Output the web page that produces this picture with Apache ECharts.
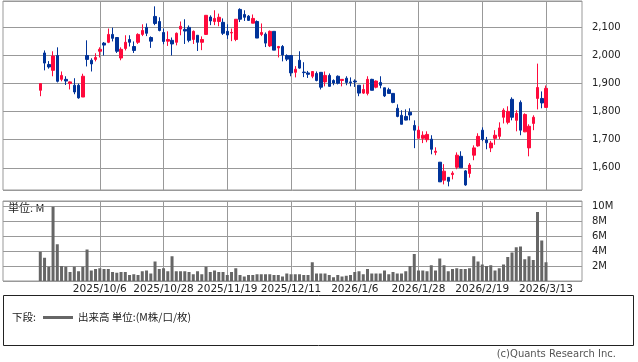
<!DOCTYPE html>
<html>
<head>
<meta charset="utf-8">
<script src="https://cdn.jsdelivr.net/npm/echarts@6/dist/echarts.min.js"></script>
<style>
html,body{margin:0;padding:0;background:#fff;}
#chart{width:638px;height:362px;}
</style>
</head>
<body>
<div id="chart"></div>
<script>
// ---- data ----
const padBefore = ['2025/9/2','2025/9/3','2025/9/4','2025/9/5','2025/9/8','2025/9/9','2025/9/10','2025/9/11'];
const padAfter = ['2026/3/16','2026/3/17','2026/3/18','2026/3/19','2026/3/23','2026/3/24','2026/3/25','2026/3/26'];
const priceDates = [
'2025/9/12','2025/9/16','2025/9/17','2025/9/18','2025/9/19','2025/9/22','2025/9/24','2025/9/25','2025/9/26','2025/9/29','2025/9/30',
'2025/10/1','2025/10/2','2025/10/3','2025/10/6','2025/10/7','2025/10/8','2025/10/9','2025/10/10','2025/10/14','2025/10/15','2025/10/16','2025/10/17','2025/10/20','2025/10/21','2025/10/22','2025/10/23','2025/10/24','2025/10/27','2025/10/28','2025/10/29','2025/10/30','2025/10/31',
'2025/11/4','2025/11/5','2025/11/6','2025/11/7','2025/11/10','2025/11/11','2025/11/12','2025/11/13','2025/11/14','2025/11/17','2025/11/18','2025/11/19','2025/11/20','2025/11/21','2025/11/25','2025/11/26','2025/11/27','2025/11/28',
'2025/12/1','2025/12/2','2025/12/3','2025/12/4','2025/12/5','2025/12/8','2025/12/9','2025/12/10','2025/12/11','2025/12/12','2025/12/15','2025/12/16','2025/12/17','2025/12/18','2025/12/19','2025/12/22','2025/12/23','2025/12/24','2025/12/25','2025/12/26','2025/12/29','2025/12/30',
'2026/1/5','2026/1/6','2026/1/7','2026/1/8','2026/1/9','2026/1/13','2026/1/14','2026/1/15','2026/1/16','2026/1/19','2026/1/20','2026/1/21','2026/1/22','2026/1/23','2026/1/26','2026/1/27','2026/1/28','2026/1/29','2026/1/30',
'2026/2/2','2026/2/3','2026/2/4','2026/2/5','2026/2/6','2026/2/9','2026/2/10','2026/2/12','2026/2/13','2026/2/16','2026/2/17','2026/2/18','2026/2/19','2026/2/20','2026/2/24','2026/2/25','2026/2/26','2026/2/27',
'2026/3/2','2026/3/3','2026/3/4','2026/3/5','2026/3/6','2026/3/9','2026/3/10','2026/3/11','2026/3/12','2026/3/13'
];
const tickLabels = ['2025/10/6','2025/10/28','2025/11/19','2025/12/11','2026/1/6','2026/1/28','2026/2/19','2026/3/13'];

const opens = [1876,2009,1968,1947,2000,1915,1915,1900,1894,1894,1852,2000,1983,1986,2015,2044,2047,2075,2064,1991,
2025,2057,2032,2047,2075,2100,2064,2139,2121,2082,2051,2054,2047,2094,2093,2100,2057,2072,2047,2075,
2137,2121,2121,2118,2086,2080,2057,2164,2146,2140,2115,2121,2075,2076,2034,2086,2027,2032,2000,2000,
1940,1983,1941,1938,1926,1936,1940,1906,1929,1911,1926,1911,1919,1906,1909,1894,1866,1865,1915,1887,
1904,1885,1878,1865,1812,1787,1783,1798,1751,1705,1705,1700,1702,1655,1620,1556,1566,1576,1602,1641,
1589,1580,1645,1678,1734,1699,1671,1705,1712,1780,1762,1844,1769,1833,1728,1671,1758,1847,1847,1815];
const closes = [1900,1973,1959,1998,1908,1929,1909,1906,1870,1849,1926,1986,1970,1993,2022,2037,2075,2061,2015,2022,
2047,2047,2018,2075,2089,2079,2051,2114,2089,2050,2057,2041,2079,2104,2087,2054,2086,2047,2057,2143,
2123,2132,2136,2079,2073,2082,2129,2129,2136,2125,2132,2062,2082,2044,2086,2019,2032,2002,1987,1938,
1951,1955,1939,1933,1943,1911,1887,1929,1890,1902,1901,1915,1904,1903,1906,1866,1879,1915,1876,1909,
1894,1856,1865,1833,1783,1755,1770,1788,1734,1734,1716,1719,1666,1659,1550,1588,1552,1581,1645,1600,
1539,1610,1671,1712,1701,1689,1688,1716,1742,1805,1801,1780,1794,1734,1790,1748,1780,1886,1831,1883];
const lows = [1855,1947,1953,1926,1904,1908,1895,1879,1862,1846,1852,1961,1943,1979,1993,2000,2044,2050,2009,1983,
2018,2032,2009,2041,2069,2069,2027,2108,2086,2040,2034,2000,2036,2072,2041,2047,2041,2016,2019,2073,
2108,2108,2104,2073,2059,2051,2051,2119,2123,2123,2115,2062,2069,2030,2030,2019,1993,1979,1980,1926,
1922,1953,1923,1920,1919,1908,1879,1890,1890,1894,1897,1890,1894,1890,1888,1855,1863,1858,1876,1883,
1883,1852,1865,1830,1780,1755,1769,1769,1670,1702,1688,1691,1648,1645,1550,1541,1534,1559,1595,1600,
1536,1565,1627,1675,1695,1666,1656,1682,1702,1758,1755,1769,1730,1716,1727,1641,1734,1808,1812,1815];
const highs = [1900,2018,1980,2015,2029,1943,1926,1908,1919,1900,1935,2054,1990,2008,2029,2048,2096,2099,2064,2029,
2072,2072,2050,2079,2111,2114,2068,2175,2136,2096,2086,2064,2082,2121,2129,2107,2089,2072,2068,2143,
2143,2161,2149,2132,2111,2096,2129,2168,2161,2144,2146,2125,2114,2082,2089,2086,2034,2037,2004,2000,
1962,2015,1976,1945,1943,1943,1940,1943,1936,1915,1929,1915,1926,1922,1915,1894,1897,1926,1917,1911,
1926,1885,1885,1865,1826,1805,1808,1812,1769,1748,1730,1730,1716,1673,1620,1613,1566,1588,1655,1659,
1592,1617,1680,1723,1744,1710,1696,1734,1762,1812,1819,1851,1805,1840,1794,1755,1787,1971,1872,1893];
const volumes = [3.9,3.1,1.9,9.9,4.9,2.0,1.9,1.2,1.9,1.3,1.9,4.2,1.4,1.6,1.7,1.6,1.6,1.2,1.1,1.2,
1.2,0.8,0.9,0.8,1.3,1.4,1.0,2.6,1.6,1.7,1.3,3.3,1.3,1.3,1.3,1.2,0.9,1.3,0.9,1.9,
1.2,1.4,1.2,1.2,0.8,1.2,1.7,0.8,0.6,0.8,0.8,0.9,0.9,0.9,0.9,0.8,0.8,0.6,1.0,0.9,
0.9,0.9,0.8,0.8,2.5,1.0,1.0,1.0,0.8,0.5,0.8,0.6,0.7,0.8,1.2,1.3,0.9,1.6,1.0,1.0,
1.0,1.4,0.9,1.2,1.0,1.0,1.3,2.0,3.6,1.4,1.4,1.3,2.1,1.4,3.0,2.1,1.3,1.6,1.7,1.6,
1.6,1.7,3.3,2.6,2.2,2.0,2.1,1.4,1.7,2.2,3.2,3.8,4.5,4.6,2.9,3.3,2.8,9.2,5.4,2.5];

// ---- chart ----
const RED = '#ff0a3c', BLUE = '#003399', GRID = '#999999';
const axisDates = padBefore.concat(priceDates, padAfter);
const isTick = (idx, val) => tickLabels.indexOf(val) >= 0;
const fmtComma = v => String(v).replace(/\B(?=(\d{3})+(?!\d))/g, ',');

const chart = echarts.init(document.getElementById('chart'), null, {renderer: 'canvas'});
const catAxis = (grid, showLabel) => ({
  gridIndex: grid, type: 'category', data: axisDates, boundaryGap: false,
  axisLine: {show: false}, axisTick: {show: false},
  axisLabel: {show: showLabel, interval: isTick, margin: 3, color: '#222', fontFamily: 'DejaVu Sans', fontSize: 10.5},
  splitLine: {show: true, interval: isTick, lineStyle: {color: GRID, width: 1}}
});
const option = {
  animation: false,
  backgroundColor: '#ffffff',
  grid: [
    {left: 3, right: 56, top: 1, bottom: 172, show: true, borderColor: GRID, borderWidth: 1, backgroundColor: 'transparent'},
    {left: 6.3, right: 58, top: 1, bottom: 172},
    {left: 3, right: 56, top: 201, bottom: 81, show: true, borderColor: GRID, borderWidth: 1, backgroundColor: 'transparent'},
    {left: 6.3, right: 58, top: 201, bottom: 81}
  ],
  xAxis: [
    {gridIndex: 0, type: 'value', show: false, min: 0, max: 1},
    catAxis(1, false),
    {gridIndex: 2, type: 'value', show: false, min: 0, max: 1},
    catAxis(3, true)
  ],
  yAxis: [
    {gridIndex: 0, type: 'value', position: 'right', min: 1521, max: 2194, splitNumber: 5, minInterval: 100, maxInterval: 100,
     axisLine: {show: false}, axisTick: {show: true, length: 5, lineStyle: {color: GRID}},
     axisLabel: {margin: 10, color: '#222', fontFamily: 'DejaVu Sans', fontSize: 10,
       formatter: v => (Math.abs(v % 100) < 1e-6 ? fmtComma(v) : '')},
     splitLine: {show: true, lineStyle: {color: GRID, width: 1}}},
    {gridIndex: 1, type: 'value', show: false, min: 1521, max: 2194},
    {gridIndex: 2, type: 'value', position: 'right', min: 0, max: 10.667, interval: 2,
     axisLine: {show: false}, axisTick: {show: true, length: 5, lineStyle: {color: GRID}},
     axisLabel: {margin: 10, color: '#222', fontFamily: 'DejaVu Sans', fontSize: 10,
       formatter: v => (v > 0 && Math.abs(v % 2) < 1e-6 ? v + 'M' : '')},
     splitLine: {show: true, lineStyle: {color: GRID, width: 1}}},
    {gridIndex: 3, type: 'value', show: false, min: 0, max: 10.667}
  ],
  series: [
    {type: 'candlestick', xAxisIndex: 1, yAxisIndex: 1, barWidth: 3,
     encode: {x: 0, y: [1, 2, 3, 4]},
     itemStyle: {color: RED, color0: BLUE, borderColor: RED, borderColor0: BLUE, borderWidth: 1},
     data: priceDates.map((d, k) => [d, opens[k], closes[k], lows[k], highs[k]])},
    {type: 'bar', xAxisIndex: 3, yAxisIndex: 3, barWidth: 3,
     itemStyle: {color: '#666666'},
     data: priceDates.map((d, k) => [d, volumes[k]])}
  ],
  graphic: [
    {type: 'text', left: 8, top: 202, style: {text: '単位: M', font: '11px "Noto Sans CJK JP"', fill: '#222'}},
    {type: 'rect', shape: {x: 3.5, y: 295.5, width: 630, height: 50}, style: {fill: 'none', stroke: '#222', lineWidth: 1}},
    {type: 'text', x: 12, y: 317.5, style: {text: '下段:', font: '10.5px "Noto Sans CJK JP"', fill: '#222', verticalAlign: 'middle'}},
    {type: 'line', shape: {x1: 43, y1: 317.5, x2: 73, y2: 317.5}, style: {stroke: '#666', lineWidth: 3}},
    {type: 'text', x: 78, y: 317.5, style: {text: '出来高 単位:(M株/口/枚)', font: '10.5px "Noto Sans CJK JP"', fill: '#222', verticalAlign: 'middle'}},
    {type: 'text', x: 616, y: 354.5, style: {text: '(c)Quants Research Inc.', font: '10px "DejaVu Sans"', fill: '#555', align: 'right', verticalAlign: 'middle'}}
  ]
};
chart.setOption(option);
</script>
</body>
</html>
